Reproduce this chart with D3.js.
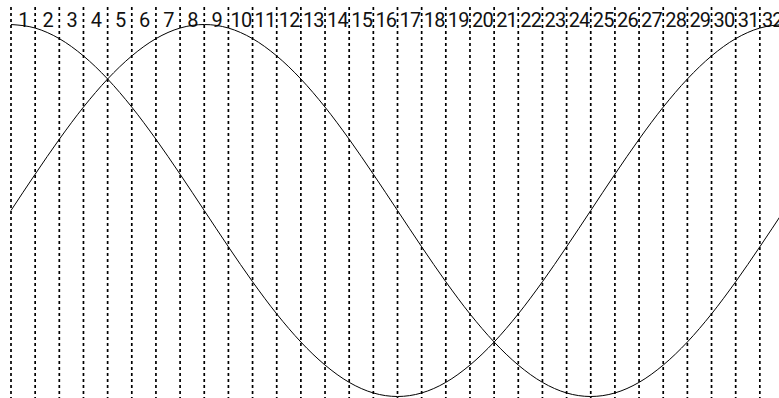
<!DOCTYPE html>
<html>
<head>
<meta charset="utf-8">
<script src="https://cdn.jsdelivr.net/npm/d3@7"></script>
<style>
  html, body { margin: 0; padding: 0; background: #fff; }
  svg { display: block; }
  .label { font-family: Roboto, "Liberation Sans Narrow", "DejaVu Sans Condensed", sans-serif; font-size: 20px; letter-spacing: -0.8px; fill: #111; }
</style>
</head>
<body>
<svg id="chart" width="779" height="398"></svg>
<script>
// Column labels shown between the dotted guides
const columns = ["1","2","3","4","5","6","7","8","9","10","11","12","13","14","15","16",
                 "17","18","19","20","21","22","23","24","25","26","27","28","29","30","31","32"];

// Guide positions (column edges), 0..32
const edges = d3.range(0, 33);

// Wave sampled at each column edge
const waveA = [1, 0.981, 0.924, 0.831, 0.707, 0.556, 0.383, 0.195, 0,
               -0.195, -0.383, -0.556, -0.707, -0.831, -0.924, -0.981, -1,
               -0.981, -0.924, -0.831, -0.707, -0.556, -0.383, -0.195, 0,
               0.195, 0.383, 0.556, 0.707, 0.831, 0.924, 0.981, 1];
const waveB = [0, 0.195, 0.383, 0.556, 0.707, 0.831, 0.924, 0.981, 1,
               0.981, 0.924, 0.831, 0.707, 0.556, 0.383, 0.195, 0,
               -0.195, -0.383, -0.556, -0.707, -0.831, -0.924, -0.981, -1,
               -0.981, -0.924, -0.831, -0.707, -0.556, -0.383, -0.195, 0];

const svg = d3.select("#chart");

const x = d3.scaleLinear().domain([0, 32]).range([11, 784]);
const y = d3.scaleLinear().domain([-1, 1]).range([396.5, 24.5]);

// Dotted column guides
svg.append("g")
  .selectAll("line")
  .data(edges)
  .join("line")
  .attr("x1", d => x(d)).attr("x2", d => x(d))
  .attr("y1", 7).attr("y2", 398)
  .attr("stroke", "#000")
  .attr("stroke-width", 1.7)
  .attr("stroke-dasharray", "3,3");

// Column numbers centred between guides
svg.append("g")
  .selectAll("text")
  .data(columns)
  .join("text")
  .attr("class", "label")
  .attr("x", (d, i) => x(i + 0.5) + 0.4)
  .attr("y", 26.5)
  .attr("text-anchor", "middle")
  .text(d => d);

// The two waves
const line = d3.line()
  .x((d, i) => x(edges[i]))
  .y(d => y(d))
  .curve(d3.curveMonotoneX);

[waveA, waveB].forEach(series => {
  svg.append("path")
    .datum(series)
    .attr("d", line)
    .attr("fill", "none")
    .attr("stroke", "#000")
    .attr("stroke-width", 1);
});
</script>
</body>
</html>
